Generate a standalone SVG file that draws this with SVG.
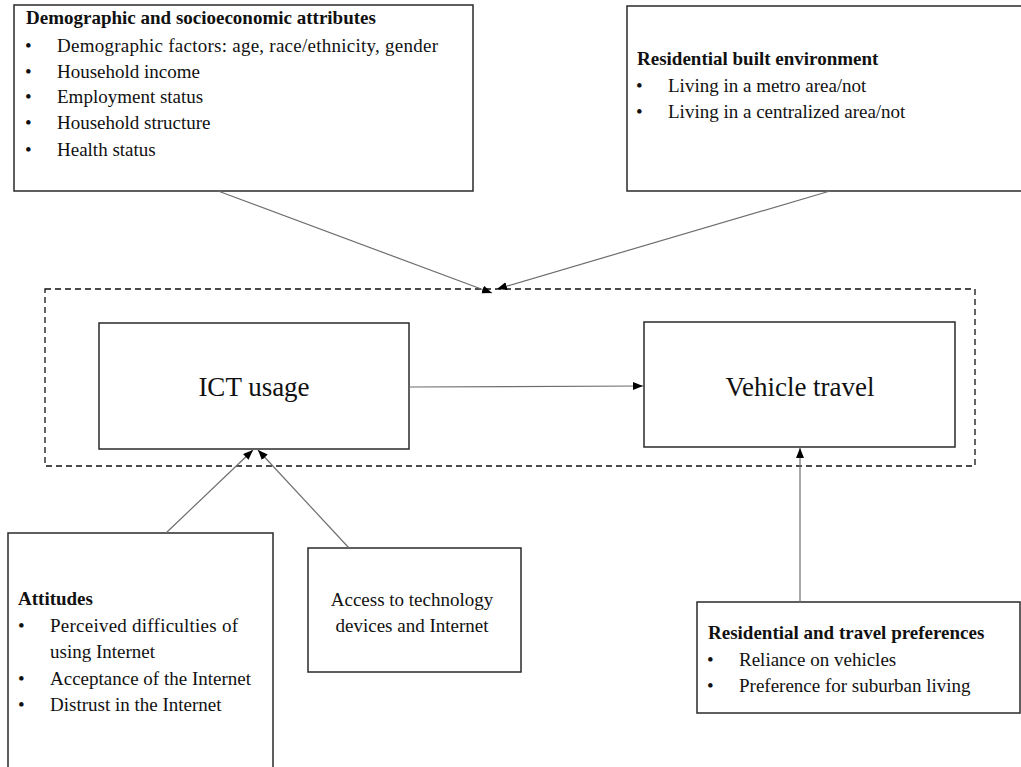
<svg xmlns="http://www.w3.org/2000/svg" width="1021" height="767" viewBox="0 0 1021 767">
  <style>
    .box { fill: #ffffff; stroke: #2a2a2a; stroke-width: 1.5; }
    .dash { fill: none; stroke: #111111; stroke-width: 1.3; stroke-dasharray: 6 4; }
    .t { font-family: "Liberation Serif", "Times New Roman", serif; font-size: 19px; fill: #111111; }
    .b { font-weight: bold; }
    .big { font-family: "Liberation Serif", "Times New Roman", serif; font-size: 27px; fill: #111111; }
    .conn { stroke: #6e6e6e; stroke-width: 1.2; fill: none; marker-end: url(#arrow); }
  </style>
  <defs>
    <marker id="arrow" markerUnits="userSpaceOnUse" markerWidth="11" markerHeight="9" refX="10" refY="4" orient="auto">
      <path d="M0,0 L10,4 L0,8 z" fill="#000000"/>
    </marker>
  </defs>
  <rect width="1021" height="767" fill="#ffffff"/>

  <g id="group-dashed">
    <rect class="dash" x="45" y="289" width="930" height="177"/>
  </g>

  <g id="node-demographic">
    <rect class="box" x="14" y="5" width="459" height="186"/>
    <text class="t b" x="26" y="24">Demographic and socioeconomic attributes</text>
    <text class="t" x="25" y="52">•</text>
    <text class="t" x="57" y="52" textLength="381" lengthAdjust="spacing">Demographic factors: age, race/ethnicity, gender</text>
    <text class="t" x="25" y="78">•</text>
    <text class="t" x="57" y="78">Household income</text>
    <text class="t" x="25" y="103">•</text>
    <text class="t" x="57" y="103">Employment status</text>
    <text class="t" x="25" y="129">•</text>
    <text class="t" x="57" y="129">Household structure</text>
    <text class="t" x="25" y="156">•</text>
    <text class="t" x="57" y="156">Health status</text>
  </g>

  <g id="node-built-environment">
    <rect class="box" x="627" y="6" width="400" height="185"/>
    <text class="t b" x="637" y="65">Residential built environment</text>
    <text class="t" x="636" y="92">•</text>
    <text class="t" x="668" y="92">Living in a metro area/not</text>
    <text class="t" x="636" y="118">•</text>
    <text class="t" x="668" y="118">Living in a centralized area/not</text>
  </g>

  <g id="node-ict">
    <rect class="box" x="99" y="323" width="310" height="126"/>
    <text class="big" x="254" y="396" text-anchor="middle">ICT usage</text>
  </g>

  <g id="node-vehicle">
    <rect class="box" x="644" y="322" width="311" height="125"/>
    <text class="big" x="800" y="396" text-anchor="middle">Vehicle travel</text>
  </g>

  <g id="node-attitudes">
    <rect class="box" x="8" y="533" width="265" height="245"/>
    <text class="t b" x="18" y="605">Attitudes</text>
    <text class="t" x="18" y="632">•</text>
    <text class="t" x="50" y="632" textLength="188" lengthAdjust="spacing">Perceived difficulties of</text>
    <text class="t" x="50" y="658">using Internet</text>
    <text class="t" x="18" y="685">•</text>
    <text class="t" x="50" y="685">Acceptance of the Internet</text>
    <text class="t" x="18" y="711">•</text>
    <text class="t" x="50" y="711">Distrust in the Internet</text>
  </g>

  <g id="node-access">
    <rect class="box" x="308" y="548" width="213" height="124"/>
    <text class="t" x="412" y="606" text-anchor="middle">Access to technology</text>
    <text class="t" x="412" y="632" text-anchor="middle">devices and Internet</text>
  </g>

  <g id="node-preferences">
    <rect class="box" x="697" y="602" width="323" height="111"/>
    <text class="t b" x="708" y="639">Residential and travel preferences</text>
    <text class="t" x="707" y="666">•</text>
    <text class="t" x="739" y="666">Reliance on vehicles</text>
    <text class="t" x="707" y="692">•</text>
    <text class="t" x="739" y="692">Preference for suburban living</text>
  </g>

  <g id="connectors">
    <line class="conn" x1="218" y1="191" x2="492" y2="293"/>
    <line class="conn" x1="830" y1="191" x2="497" y2="289"/>
    <line class="conn" x1="409" y1="387" x2="643" y2="386"/>
    <line class="conn" x1="166" y1="533" x2="253" y2="450"/>
    <line class="conn" x1="349" y1="548" x2="258" y2="450"/>
    <line class="conn" x1="800" y1="602" x2="800" y2="448"/>
  </g>
</svg>
